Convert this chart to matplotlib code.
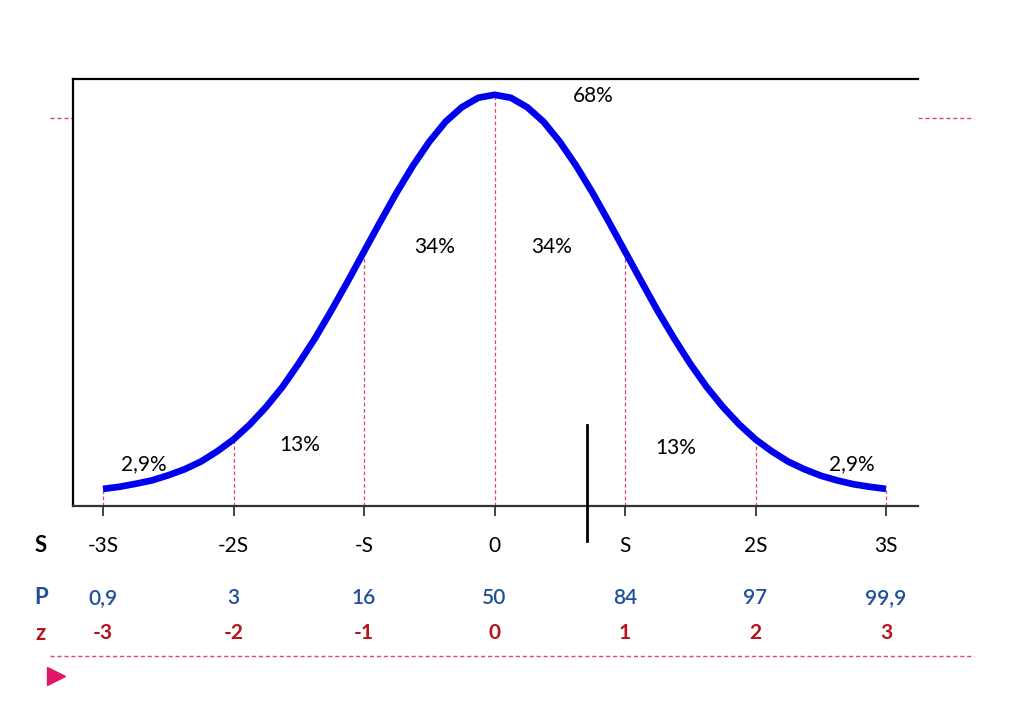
import matplotlib
matplotlib.use("Agg")
import matplotlib.pyplot as plt
from matplotlib.lines import Line2D
from matplotlib import transforms

plt.rcParams["font.family"] = ["Lato", "DejaVu Sans"]

# Curve (x in S units, height in % of the plot box)
curve_x = [-3.0, -2.875, -2.75, -2.625, -2.5, -2.375, -2.25, -2.125, -2.0, -1.875,
           -1.75, -1.625, -1.5, -1.375, -1.25, -1.125, -1.0, -0.875, -0.75, -0.625,
           -0.5, -0.375, -0.25, -0.125, 0.0, 0.125, 0.25, 0.375, 0.5, 0.625,
           0.75, 0.875, 1.0, 1.125, 1.25, 1.375, 1.5, 1.625, 1.75, 1.875,
           2.0, 2.125, 2.25, 2.375, 2.5, 2.625, 2.75, 2.875, 3.0]
curve_y = [4.0, 4.5, 5.2, 6.0, 7.2, 8.6, 10.4, 12.8, 15.6, 19.1,
           23.2, 27.9, 33.4, 39.3, 45.8, 52.6, 59.6, 66.6, 73.4, 79.7,
           85.3, 90.0, 93.4, 95.6, 96.3, 95.6, 93.4, 90.0, 85.3, 79.7,
           73.4, 66.6, 59.6, 52.6, 45.7, 39.3, 33.3, 27.9, 23.2, 19.1,
           15.6, 12.8, 10.4, 8.6, 7.1, 6.0, 5.1, 4.5, 4.0]

# Tick positions and the three label rows
positions = [-3, -2, -1, 0, 1, 2, 3]
s_labels = ["-3S", "-2S", "-S", "0", "S", "2S", "3S"]
p_labels = ["0,9", "3", "16", "50", "84", "97", "99,9"]
z_labels = ["-3", "-2", "-1", "0", "1", "2", "3"]

# Area percentages
area_text = ["68%", "34%", "34%", "13%", "13%", "2,9%", "2,9%"]
area_x = [0.76, -0.46, 0.44, -1.49, 1.39, -2.69, 2.74]
area_y = [96, 60.7, 60.7, 14.3, 13.6, 9.8, 9.8]

# Marker line
marker_x = 0.705

pink = "#e0447c"
blue_txt = "#1f4e9a"
red_txt = "#b8121c"

fig = plt.figure(figsize=(10.24, 7.09), dpi=100)
ax = fig.add_axes([0.0713, 0.2863, 0.8252, 0.6023])

# background dashed guide lines (hidden behind the plot box)
fig.add_artist(Line2D([0.049, 0.951], [0.8336, 0.8336], color=pink, lw=1,
                      ls=(0, (3, 2)), zorder=-1))
fig.add_artist(Line2D([0.049, 0.951], [0.0748, 0.0748], color=pink, lw=1,
                      ls=(0, (3, 2)), zorder=-1))
fig.add_artist(Line2D([0.0547], [0.0466], marker=">", markersize=13,
                      color="#e0156b", lw=0))

# vertical dashed guides up to the curve
heights = [curve_y[curve_x.index(float(p))] for p in positions]
ax.vlines(positions, 0, heights, colors=pink, lw=0.9, linestyles=(0, (3, 2)), zorder=1)

ax.plot(curve_x, curve_y, color="#0000ee", lw=4.8, solid_capstyle="butt",
        solid_joinstyle="round", zorder=3)

ax.plot([marker_x, marker_x], [19, -8.2], color="black", lw=2, clip_on=False, zorder=4)

for t, x, y in zip(area_text, area_x, area_y):
    ax.text(x, y, t, fontsize=15, ha="center", va="center", color="black")

ax.set_xlim(-3.23, 3.245)
ax.set_ylim(0, 100)
ax.set_xticks(positions)
ax.set_xticklabels([])
ax.set_yticks([])
ax.tick_params(axis="x", direction="out", length=7, width=1.2, color="#222222")

for side in ["left", "top"]:
    ax.spines[side].set_linewidth(1.6)
    ax.spines[side].set_color("black")
ax.spines["bottom"].set_linewidth(1.6)
ax.spines["bottom"].set_color("#333333")
ax.spines["right"].set_visible(False)

# label rows below the axis
trans = transforms.blended_transform_factory(ax.transData, fig.transFigure)
rows = [(s_labels, 1 - 546 / 709, "black", "S", "normal"),
        (p_labels, 1 - 598 / 709, blue_txt, "P", "semibold"),
        (z_labels, 1 - 633 / 709, red_txt, "z", "bold")]
for labels, yy, col, head, weight in rows:
    for p, lab in zip(positions, labels):
        ax.text(p, yy, lab, transform=trans, fontsize=15, ha="center", va="center",
                color=col, fontweight=weight)
    fig.text(41 / 1024, yy, head, fontsize=16, fontweight="bold", ha="center",
             va="center", color=col)

fig.savefig("out.png", dpi=100)
